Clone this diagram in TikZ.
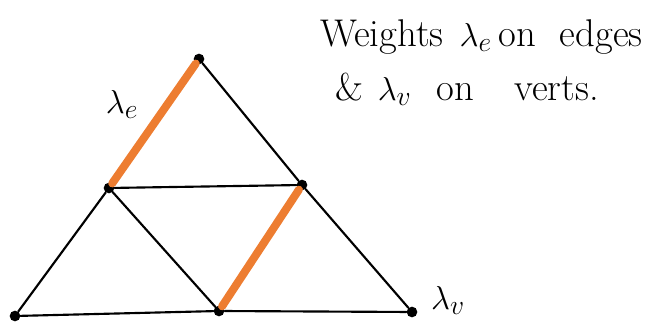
\documentclass[tikz,border=0pt]{standalone}
\usepackage{amsmath, amssymb}
\definecolor{hlorange}{RGB}{237,125,49}

\begin{document}
\begin{tikzpicture}[x=0.75pt, y=-0.75pt,
    vert/.style={circle,fill,inner sep=0pt,minimum size=8pt},
    edge/.style={line width=1.6pt,line cap=round},
    hl/.style={hlorange,line width=6pt,line cap=round},
    note/.style={font=\fontsize{29}{35}\selectfont,inner sep=0pt}]
  \useasboundingbox (0,0) rectangle (660,323);

  % vertices of the subdivided triangle
  \node[vert] (T)  at (199, 59) {};
  \node[vert] (ML) at (109,188) {};
  \node[vert] (MR) at (302,185) {};
  \node[vert] (BL) at ( 15,316) {};
  \node[vert] (BM) at (219,311) {};
  \node[vert] (BR) at (412,312) {};

  % black edges
  \draw[edge] (T)  -- (MR);
  \draw[edge] (ML) -- (MR);
  \draw[edge] (ML) -- (BL);
  \draw[edge] (ML) -- (BM);
  \draw[edge] (MR) -- (BR);
  \draw[edge] (BL) -- (BM);
  \draw[edge] (BM) -- (BR);

  % weighted edges
  \draw[hl] (T)  -- (ML);
  \draw[hl] (MR) -- (BM);

  % labels
  \node[note] (le) at (122,104) {$\lambda_e$};
  \node[note] (lv) at (448,300) {$\lambda_v$};
  \node[note,anchor=base west] (l1) at (320,47)
    {Weights\hspace{12pt}$\lambda_e$\hspace{5pt}on\hspace{18pt}edges};
  \node[note,anchor=base west] (l2) at (335,101)
    {\&\hspace{11pt}$\lambda_v$\hspace{19pt}on\hspace{30pt}verts.};
\end{tikzpicture}
\end{document}
